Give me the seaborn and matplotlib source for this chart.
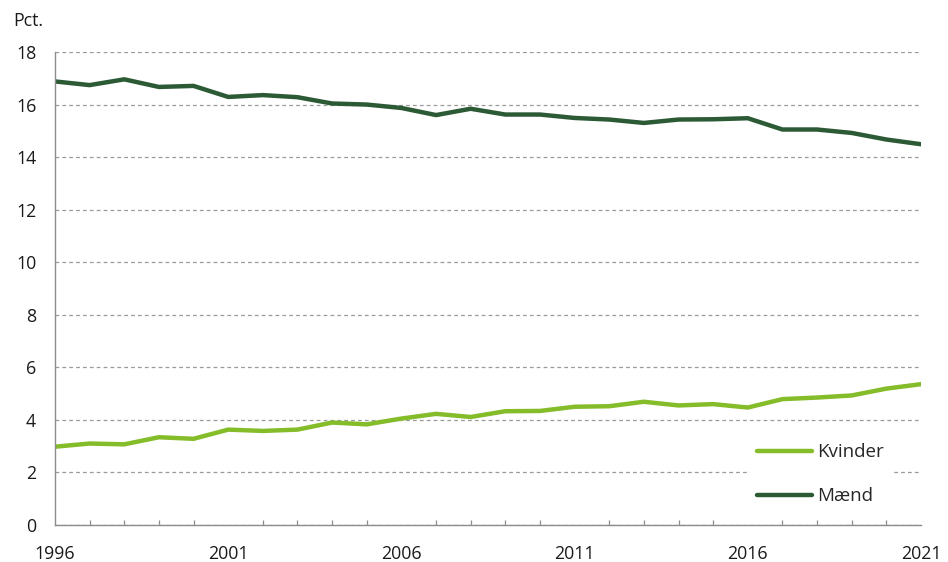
import numpy as np
import pandas as pd
import seaborn as sns
import matplotlib.pyplot as plt
from matplotlib.ticker import MultipleLocator

YEARS = list(range(1996, 2022))
KVINDER = [2.98, 3.10, 3.07, 3.34, 3.28, 3.63, 3.58, 3.63, 3.90, 3.83,
           4.05, 4.23, 4.11, 4.33, 4.34, 4.50, 4.52, 4.69, 4.55, 4.60,
           4.47, 4.79, 4.85, 4.93, 5.19, 5.36]
MAEND = [16.88, 16.74, 16.96, 16.67, 16.71, 16.29, 16.36, 16.28, 16.04, 16.00,
         15.87, 15.60, 15.84, 15.62, 15.62, 15.49, 15.43, 15.30, 15.43, 15.44,
         15.48, 15.05, 15.05, 14.92, 14.67, 14.49]
SERIES = ["Kvinder", "Mænd"]
COLORS = ["#84bc2a", "#2b5a35"]
Y_TICKS = [0, 2, 4, 6, 8, 10, 12, 14, 16, 18]
X_TICKS = [1996, 2001, 2006, 2011, 2016, 2021]

df = pd.DataFrame({
    "year": YEARS * 2,
    "value": KVINDER + MAEND,
    "serie": [SERIES[0]] * len(YEARS) + [SERIES[1]] * len(YEARS),
})

sns.set_style("white")
plt.rcParams["font.family"] = ["Open Sans", "DejaVu Sans"]
plt.rcParams["font.size"] = 12.5

fig = plt.figure(figsize=(9.48, 5.62), dpi=100)
ax = fig.add_axes([55 / 948, 1 - 525 / 562, (921 - 55) / 948, (525 - 52) / 562])

sns.lineplot(data=df, x="year", y="value", hue="serie", hue_order=SERIES,
             palette=COLORS, linewidth=3.2, ax=ax)

ax.set_xlim(1996, 2021)
ax.set_ylim(0, 18)
ax.set_yticks(Y_TICKS)
ax.set_xticks(X_TICKS)
ax.xaxis.set_minor_locator(MultipleLocator(1))
ax.set_xlabel("")
ax.set_ylabel("")

ax.yaxis.grid(True, color="#9a9a9a", linestyle=(0, (3, 2.5)), linewidth=0.9)
ax.set_axisbelow(True)

for side in ["top", "right"]:
    ax.spines[side].set_visible(False)
for side in ["left", "bottom"]:
    ax.spines[side].set_color("#8c8c8c")
    ax.spines[side].set_linewidth(1.0)

ax.tick_params(axis="y", which="major", direction="out", length=4.5, width=0.9,
               color="#8c8c8c", pad=9, labelsize=12.8, labelcolor="#1a1a1a")
ax.tick_params(axis="x", which="major", direction="inout", length=8.5, width=0.9,
               color="#8c8c8c", pad=10, labelsize=12.8, labelcolor="#1a1a1a")
ax.tick_params(axis="x", which="minor", direction="in", length=3.6, width=0.9,
               color="#8c8c8c", bottom=True)

fig.text(13 / 948, 1 - 26 / 562, "Pct.", fontsize=12.8, color="#1a1a1a",
         ha="left", va="baseline")

leg = ax.legend(loc="lower right", bbox_to_anchor=(0.977, 0.006), frameon=True,
                fancybox=False, framealpha=1, facecolor="white", edgecolor="none",
                handlelength=2.9, handletextpad=0.3, labelspacing=1.38,
                borderpad=0.4, fontsize=13.5, title=None)
for line in leg.get_lines():
    line.set_linewidth(3.2)

fig.savefig("out.png", dpi=100)
